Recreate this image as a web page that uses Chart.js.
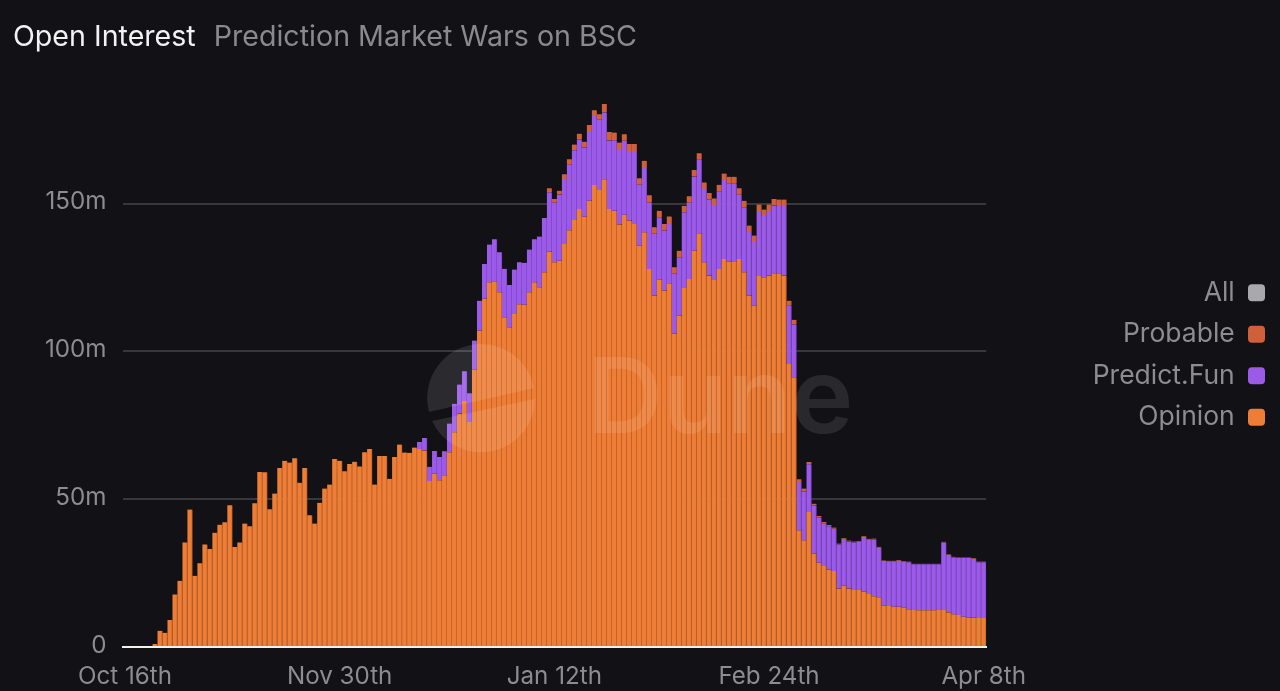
<!DOCTYPE html>
<html><head><meta charset="utf-8">
<script src="https://cdn.jsdelivr.net/npm/chart.js@4"></script>
<style>
html,body{margin:0;padding:0;background:#111116;width:1280px;height:691px;overflow:hidden}
#wrap{position:relative;width:1280px;height:691px;font-family:Inter,sans-serif}
canvas{position:absolute;left:0;top:0}
#title{position:absolute;left:13px;top:17px;font-size:28.6px;line-height:38px;white-space:nowrap;color:#f2f2f2}
#title span{color:#8a8a8d;margin-left:18px}
#wm{position:absolute;left:0;top:0;pointer-events:none}
#wmtext{position:absolute;left:587px;top:325px;font-size:105px;line-height:140px;font-weight:600;color:rgba(255,255,255,.10);pointer-events:none}
</style></head><body>
<div id="wrap">
<canvas id="c" width="1280" height="691"></canvas>
<svg id="wm" width="1280" height="691"><path d="M481 344a54 54 0 0 0-52 68 L534 388 A54 54 0 0 0 481 344Z" fill="rgba(255,255,255,.11)"/><path d="M432 421 A54 54 0 0 0 535 399 Z" fill="rgba(255,255,255,.11)"/></svg>
<div id="wmtext">Dune</div>
<div id="title">Open Interest<span>Prediction Market Wars on BSC</span></div>
</div>
<script>
const tickLabels=["Oct 16th","Nov 30th","Jan 12th","Feb 24th","Apr 8th"];
const yTicks=["0","50m","100m","150m"];
const opinion=[
0,0,0,0,0,0,1,5.5,4.8,9.1,17.8,22.4,35.4,46.5,24.1,28.3,34.7,33.2,38.7,41.4,
42.2,48,33.8,35.4,41.8,40.9,48.6,59.2,59.1,46.6,51.9,60.6,63,62.4,63.9,55.6,60.6,44.6,41.8,48.8,
53.6,55,63.6,63,59.5,61.9,62.7,61.1,65.9,67,55,64.6,64.6,56.9,64.3,68.5,65.8,65.7,67.5,67,
66.5,56.2,58.6,56.4,58.1,65.9,72.7,79,83.2,76.1,93.8,107,117.8,123.4,123.8,120,111.6,108.2,112.7,116,
115.8,120,123.4,121.7,126.8,133.8,130.2,130.7,136.4,141,144.5,148.2,145.6,151,156.3,154.6,158.3,148.2,147.6,143,
146.3,144.3,143.1,135.8,140.3,127.9,118.9,124.3,120.6,123.1,106,112.2,121.5,124.5,134.1,140,130.2,125.7,124.2,127.9,
131.3,130.4,130.5,131.3,126.8,118.9,115.5,125.5,125.1,125.7,126.5,126.5,125.7,95.8,91.3,39.5,36.1,45.7,31.6,28.5,
27.4,26.2,25.7,19.8,20.7,19.8,19.3,19.5,18.7,17.9,17.2,16.8,14,13.9,13.6,13.6,13.3,12.8,12.5,12.4,
12.4,12.4,12.4,12.5,12.5,11.7,11.1,10.8,10.2,10,9.9,9.8,9.8];
const predictFun=[
0,0,0,0,0,0,0,0,0,0,0,0,0,0,0,0,0,0,0,0,
0,0,0,0,0,0,0,0,0,0,0,0,0,0,0,0,0,0,0,0,
0,0,0,0,0,0,0,0,0,0,0,0,0,0,0,0,0,0,0,2.4,
4.2,4.8,7.7,7.9,8.1,9.7,9.6,9.8,10.1,9.8,9.9,10.2,11.8,12.8,14.2,13.6,16.4,14.3,15,14.2,
14.2,14.5,14.6,17.2,18.4,20.1,20.1,22.4,22,22.2,23.6,23.5,23.4,23.6,23.4,23.8,22.6,23.2,23.9,25.2,
25,23.5,24.7,20.6,21.8,22.4,20.9,21.1,20.3,20.4,20.3,19.7,25.6,25.8,25.1,24.9,24.8,25.7,25.4,26.3,
26.7,26.5,26.4,21.7,22,21.5,21.5,22,20.7,21.8,22.9,22.7,23.5,19.8,17.8,16.3,16.5,16.1,16.3,15.3,
14.5,14.7,14.3,14.9,15.9,15.9,16.1,16,18.5,18.4,19.2,16.8,15.1,15.1,15.4,15.6,15.6,15.9,15.5,15.6,
15.6,15.6,15.6,15.5,22.9,19.5,19.2,19.3,19.9,20.1,19.9,18.9,18.9];
const probable=[
0,0,0,0,0,0,0,0,0,0,0,0,0,0,0,0,0,0,0,0,
0,0,0,0,0,0,0,0,0,0,0,0,0,0,0,0,0,0,0,0,
0,0,0,0,0,0,0,0,0,0,0,0,0,0,0,0,0,0,0,0,
0,0,0,0,0,0,0,0,0,0,0,0,0,0,0,0,0,0,0,0,
0,0,0,0,0,1.3,1.3,1.3,1.6,1.8,1.9,2,2,2,1.9,1.9,2.8,2.9,2.6,2.5,
2.2,2.4,2.4,2.2,2.4,2.6,2.2,2.2,2.2,2.2,2.2,2.2,2.2,2.2,2.2,2.2,2.2,2.2,2.2,2.2,
2.2,2.2,2.2,2.2,2.2,2.2,2.2,2.2,2.2,2.2,2.2,2.2,2.2,1.6,1.6,1,1,.8,.6,.5,
.4,.4,.4,.3,.3,.3,.3,.3,.3,.3,.3,.3,.2,.2,.2,.2,.2,.2,.2,.2,
.2,.2,.2,.2,.2,.2,.2,.2,.2,.2,.2,.2,.2];
const categories=opinion.map((_,i)=>{
  if(i===0) return tickLabels[0];
  const d=new Date(2025,9,18+i);
  const n=d.getDate();
  return d.toLocaleString('en-US',{month:'short'})+' '+n+'th';
});
const seriesStyle=(label,data,bg,edge)=>({label,data,backgroundColor:bg,borderColor:edge,
  borderWidth:{left:0,right:1,top:0,bottom:0},borderSkipped:false,categoryPercentage:1,barPercentage:1,stack:'s'});
const grey='#8d8d90';
const tickFont={family:'Inter',size:24.2};
new Chart(document.getElementById('c'),{
  type:'bar',
  data:{labels:categories,datasets:[
    seriesStyle('Opinion',opinion,'#ed7e37','#c25a1e'),
    seriesStyle('Predict.Fun',predictFun,'#9b5be8','#7f45c6'),
    seriesStyle('Probable',probable,'#d0603a','#b04f2e'),
    seriesStyle('All',[], '#a9a9ac','#a9a9ac')
  ]},
  options:{
    responsive:false,animation:false,
    layout:{padding:{top:19,right:0,bottom:0,left:0}},
    plugins:{
      tooltip:{enabled:false},
      legend:{position:'right',reverse:true,rtl:true,align:'center',
        labels:{color:grey,font:{family:'Inter',size:26.5},boxWidth:17,boxHeight:17,padding:15,
          generateLabels(chart){
            return chart.data.datasets.map((d,i)=>({text:d.label,fillStyle:d.backgroundColor,strokeStyle:d.backgroundColor,
              lineWidth:0,fontColor:grey,datasetIndex:i,borderRadius:4,hidden:false}));
          }}}
    },
    scales:{
      x:{stacked:true,offset:true,
        grid:{display:false},
        border:{color:'#f4f0ea',width:2,z:1},
        ticks:{color:grey,font:tickFont,autoSkip:false,maxRotation:0,padding:7,
          callback(v,i){return i%43===0?tickLabels[i/43]:'';}},
        afterFit(s){s.height=44;}
      },
      y:{stacked:true,min:0,max:208.6,
        grid:{color:'#38383c',lineWidth:2,drawTicks:false},
        border:{display:false},
        ticks:{color:grey,font:tickFont,padding:16,stepSize:50,labelOffset:-1.5,
          callback(v){return yTicks[v/50];}},
        afterBuildTicks(s){s.ticks=s.ticks.filter(t=>t.value<=150);},
        afterFit(s){s.width=122.5;}
      },
      spacer:{position:'right',display:true,grid:{display:false},border:{display:false},
        ticks:{display:false},afterFit(s){s.width=96.5;}}
    }
  }
});
</script>
</body></html>
